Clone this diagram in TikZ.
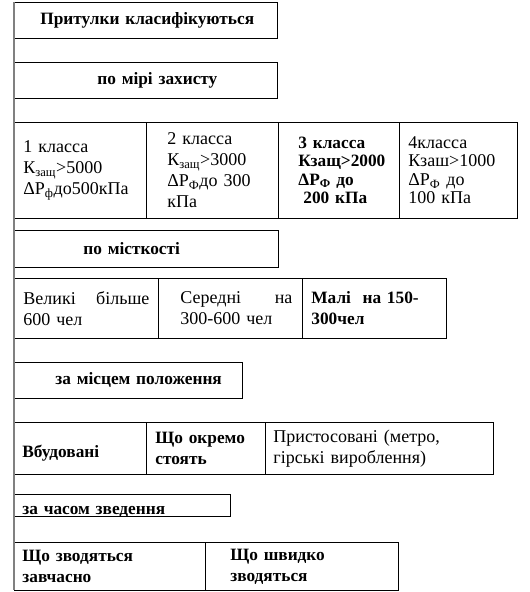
\documentclass[tikz,border=0pt]{standalone}
\usepackage{fontspec}
\setmainfont{Liberation Serif}
\tikzset{
  rubric/.style={draw, line width=0.8pt, anchor=north west, inner xsep=8pt, inner ysep=0pt,
                 align=left, font=\bfseries\fontsize{17.3}{21}\selectfont},
  cell/.style={draw, line width=0.8pt, anchor=north west, inner ysep=0pt,
               align=left, font=\fontsize{18}{21}\selectfont},
  boldcell/.style={cell, font=\bfseries\fontsize{17.3}{21}\selectfont},
  spine/.style={draw=black!50, line width=1.5pt}
}

\begin{document}
\begin{tikzpicture}[x=1pt, y=-1pt]
  \useasboundingbox (0,0) rectangle (530,592);
  % title and protection degree
  \node (title) [rubric, minimum width=263pt, minimum height=36pt, text width=247pt] at (14,2) {\hspace*{18pt}Притулки класифікуються};
  \node (protect) [rubric, minimum width=263pt, minimum height=36pt, text width=247pt] at (14,62) {\hspace*{75pt}по мірі захисту};
  \node (grade1) [cell, minimum width=132pt, minimum height=96pt, inner xsep=9pt, text width=114pt] at (14,122)
        {1 класса\\К\textsubscript{защ}>5000\\ΔP\textsubscript{ф}до500кПа};
  \node (grade2) [cell, minimum width=132pt, minimum height=96pt, inner xsep=21pt, text width=90pt] at (146,122)
        {2 класса\\К\textsubscript{защ}>3000\\ΔP\textsubscript{Ф}до 300\\кПа};
  \node (grade3) [boldcell, minimum width=121pt, minimum height=96pt, inner xsep=20pt, text width=81pt,
                  font=\bfseries\fontsize{17.3}{18.5}\selectfont] at (278,122)
        {3 класса\\Кзащ>2000\\ΔP\textsubscript{Ф} до\\\hspace*{5pt}200 кПа};
  \node (grade4) [cell, minimum width=118pt, minimum height=96pt, inner xsep=9pt, text width=100pt,
                  font=\fontsize{18}{18.5}\selectfont] at (399,122)
        {4класса\\Кзаш>1000\\ΔP\textsubscript{Ф} до\\100 кПа};
  % capacity
  \node (capacity) [rubric, minimum width=264pt, minimum height=37pt, text width=248pt] at (14,230) {\hspace*{61pt}по місткості};
  \node (cap1) [cell, minimum width=144pt, minimum height=60pt, inner xsep=9pt, text width=126pt] at (14,278)
        {Великі\hfill більше\\600 чел};
  \node (cap2) [cell, minimum width=144pt, minimum height=60pt, inner xsep=10pt, text width=124pt] at (158,278)
        {\hspace*{12pt}Середні\hfill на\\\hspace*{12pt}300-600 чел};
  \node (cap3) [boldcell, minimum width=144pt, minimum height=60pt, inner xsep=9pt, text width=126pt] at (302,278)
        {Малі\ \ на 150-\\300чел};
  % placement
  \node (placement) [rubric, minimum width=228pt, minimum height=36pt, text width=212pt] at (14,362) {\hspace*{33pt}за місцем положення};
  \node (place1) [boldcell, minimum width=132pt, minimum height=52pt, inner xsep=8pt, text width=116pt,
                  text height=21pt, text depth=3pt] at (14,422) {Вбудовані};
  \node (place2) [boldcell, minimum width=119pt, minimum height=52pt, inner xsep=9pt, text width=101pt] at (146,422)
        {Що окремо\\стоять};
  \node (place3) [cell, minimum width=228pt, minimum height=52pt, inner xsep=8pt, text width=212pt] at (265,422)
        {Пристосовані (метро,\\гірські вироблення)};
  % erection time
  \node (erection) [rubric, minimum width=216pt, minimum height=22pt, text width=200pt,
                    text height=20pt, text depth=2pt] at (14,494) {за часом зведення};
  \node (erect1) [boldcell, minimum width=191pt, minimum height=48pt, inner xsep=8pt, text width=175pt] at (14,542)
        {Що зводяться\\завчасно};
  \node (erect2) [boldcell, minimum width=193pt, minimum height=48pt, inner xsep=8pt, text width=177pt] at (205,542)
        {\hspace*{17pt}Що швидко\\\hspace*{17pt}зводяться};
  % left spine
  \coordinate (top) at (14,2);
  \coordinate (foot) at (14,590);
  \draw [spine] (top) -- (foot);
\end{tikzpicture}
\end{document}
